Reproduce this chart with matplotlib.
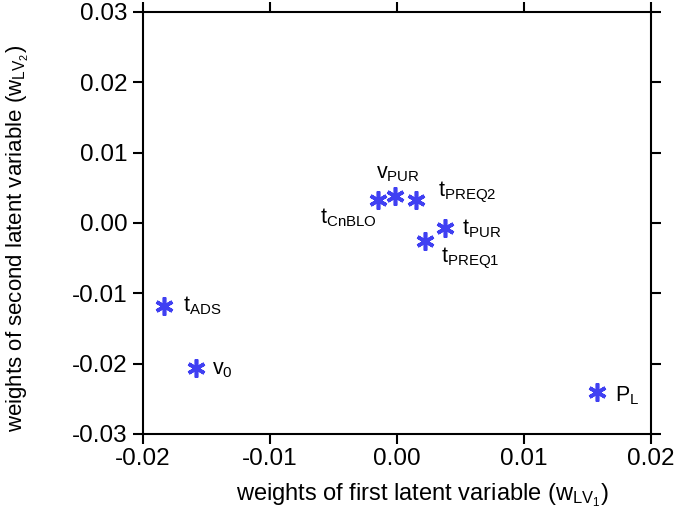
import matplotlib
matplotlib.use("Agg")
import matplotlib.pyplot as plt

plt.rcParams['font.family'] = ['Liberation Sans', 'DejaVu Sans']
plt.rcParams['mathtext.fontset'] = 'custom'
plt.rcParams['mathtext.rm'] = 'Liberation Sans'
plt.rcParams['mathtext.it'] = 'Liberation Sans'
plt.rcParams['axes.unicode_minus'] = False

# datos
etiquetas = ['t$_{\\mathrm{ADS}}$', 'v$_{\\mathrm{0}}$', 'P$_{\\mathrm{L}}$',
             't$_{\\mathrm{CnBLO}}$', 'v$_{\\mathrm{PUR}}$', 't$_{\\mathrm{PREQ2}}$',
             't$_{\\mathrm{PUR}}$', 't$_{\\mathrm{PREQ1}}$']
w_lv1 = [-0.01835, -0.01583, 0.01575, -0.00150, -0.00016, 0.00150, 0.00378, 0.00220]
w_lv2 = [-0.0118, -0.0206, -0.0240, 0.00327, 0.00384, 0.00327, -0.00071, -0.00256]
xticks = [-0.02, -0.01, 0.00, 0.01, 0.02]
yticks = [-0.03, -0.02, -0.01, 0.00, 0.01, 0.02, 0.03]

# desplazamientos de las etiquetas (pixeles) y alineacion
desp = [(19, 0), (16, -2), (18, -4), (-1, -18), (3, 22), (22, 7), (17, -1), (16, -18)]
alin = ['left', 'left', 'left', 'right', 'center', 'left', 'left', 'left']

fig = plt.figure(figsize=(6.74, 5.19), dpi=100)
ax = fig.add_axes([0.212, 0.164, 0.754, 0.813])

ax.plot(w_lv1, w_lv2, linestyle='none', marker=(6, 2, 0), markersize=13,
        markeredgewidth=2.6, color='#4040f2')

for et, x, y, d, ha in zip(etiquetas, w_lv1, w_lv2, desp, alin):
    ax.annotate(et, (x, y), xytext=d, textcoords='offset pixels',
                ha=ha, va='center', fontsize=15.5)

ax.set_xlim(-0.02, 0.02)
ax.set_ylim(-0.03, 0.03)
ax.set_xticks(xticks)
ax.set_yticks(yticks)
ax.set_xticklabels([f"{v:.2f}" for v in xticks])
ax.set_yticklabels([f"{v:.2f}" for v in yticks])
ax.tick_params(direction='out', length=7, width=1.5, labelsize=17.5,
               top=True, right=True, pad=4)
ax.tick_params(axis='x', pad=3)
for s in ax.spines.values():
    s.set_linewidth(1.5)

ax.set_xlabel('weights of first latent variable (w$_{\\mathrm{LV_1}}$)', fontsize=17)
ax.set_ylabel('weights of second latent variable (w$_{\\mathrm{LV_2}}$)', fontsize=16)
ax.xaxis.set_label_coords(0.551, -0.112)
ax.yaxis.set_label_coords(-0.22, 0.462)

fig.savefig('out.png', dpi=100)
